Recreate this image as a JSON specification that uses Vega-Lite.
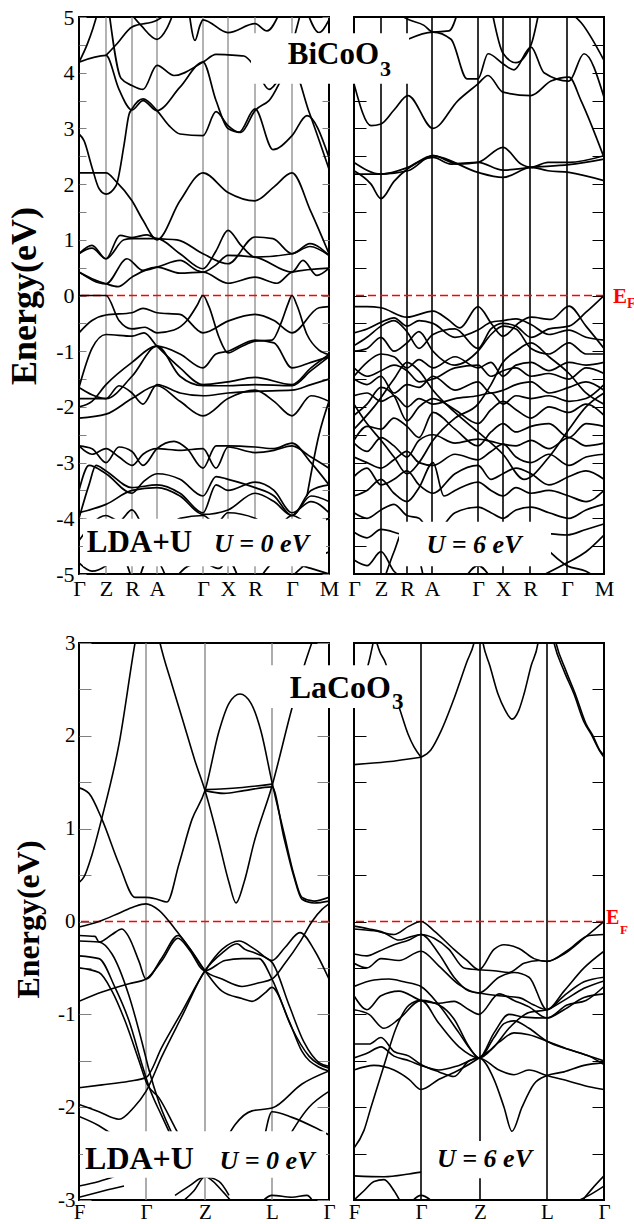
{
"$schema":"https://vega.github.io/schema/vega-lite/v6.json",
"padding":{"left":5,"top":5,"right":0,"bottom":0},
"config":{"view":{"stroke":"black","strokeWidth":2},"axis":{"domain":false,"grid":false,"labelFont":"Liberation Serif","labelColor":"black","titleFont":"Liberation Serif","titleColor":"black"},"text":{"font":"Liberation Serif"}},
"datasets":{
"kt":[{"k":27},{"k":53},{"k":78},{"k":124},{"k":149},{"k":176},{"k":213}],
"kb":[{"k":67},{"k":126},{"k":193}],
"tl":[
{"b":"t1","k":0,"E":2.2},{"b":"t1","k":27,"E":2.2},{"b":"t1","k":37,"E":2.05},{"b":"t1","k":53,"E":1.7},{"b":"t1","k":64,"E":1.35},{"b":"t1","k":78,"E":1.0},{"b":"t1","k":101,"E":1.7},{"b":"t1","k":124,"E":2.2},{"b":"t1","k":149,"E":1.85},{"b":"t1","k":176,"E":1.7},{"b":"t1","k":195,"E":1.95},{"b":"t1","k":213,"E":2.2},{"b":"t1","k":232,"E":1.5},{"b":"t1","k":250,"E":0.75},
{"b":"t2","k":0,"E":2.9},{"b":"t2","k":5,"E":2.78},{"b":"t2","k":13,"E":2.3},{"b":"t2","k":20,"E":1.92},{"b":"t2","k":27,"E":1.82},{"b":"t2","k":37,"E":1.97},{"b":"t2","k":45,"E":2.7},{"b":"t2","k":50,"E":3.25},{"b":"t2","k":53,"E":3.35},{"b":"t2","k":64,"E":3.53},{"b":"t2","k":78,"E":3.32},{"b":"t2","k":90,"E":3.05},{"b":"t2","k":101,"E":2.9},{"b":"t2","k":124,"E":2.87},{"b":"t2","k":137,"E":3.3},{"b":"t2","k":149,"E":3.05},{"b":"t2","k":160,"E":2.93},{"b":"t2","k":176,"E":3.35},{"b":"t2","k":194,"E":2.62},{"b":"t2","k":213,"E":2.87},{"b":"t2","k":228,"E":3.23},{"b":"t2","k":250,"E":2.48},
{"b":"t3","k":0,"E":4.19},{"b":"t3","k":27,"E":4.31},{"b":"t3","k":40,"E":3.7},{"b":"t3","k":53,"E":3.33},{"b":"t3","k":64,"E":3.5},{"b":"t3","k":78,"E":3.32},{"b":"t3","k":101,"E":3.74},{"b":"t3","k":124,"E":4.19},{"b":"t3","k":137,"E":3.5},{"b":"t3","k":149,"E":3.0},{"b":"t3","k":162,"E":2.93},{"b":"t3","k":176,"E":3.32},{"b":"t3","k":190,"E":3.5},{"b":"t3","k":213,"E":4.1},{"b":"t3","k":230,"E":3.3},{"b":"t3","k":250,"E":2.27},
{"b":"t4","k":0,"E":4.19},{"b":"t4","k":8,"E":4.5},{"b":"t4","k":14,"E":4.8},{"b":"t4","k":19,"E":5.1},
{"b":"t5","k":27,"E":4.31},{"b":"t5","k":38,"E":4.52},{"b":"t5","k":53,"E":4.82},{"b":"t5","k":78,"E":4.94},{"b":"t5","k":90,"E":5.1},
{"b":"t6","k":30,"E":5.1},{"b":"t6","k":42,"E":3.9},{"b":"t6","k":53,"E":3.77},{"b":"t6","k":64,"E":3.7},{"b":"t6","k":78,"E":4.13},{"b":"t6","k":95,"E":3.95},{"b":"t6","k":124,"E":4.19},{"b":"t6","k":137,"E":4.33},{"b":"t6","k":149,"E":4.32},{"b":"t6","k":165,"E":4.3},{"b":"t6","k":176,"E":4.1},{"b":"t6","k":190,"E":3.7},{"b":"t6","k":200,"E":3.9},{"b":"t6","k":213,"E":4.5},{"b":"t6","k":222,"E":5.1},
{"b":"t7","k":50,"E":5.1},{"b":"t7","k":62,"E":4.85},{"b":"t7","k":78,"E":4.6},{"b":"t7","k":88,"E":4.8},{"b":"t7","k":95,"E":5.1},
{"b":"t8","k":110,"E":5.1},{"b":"t8","k":116,"E":4.58},{"b":"t8","k":121,"E":4.85},{"b":"t8","k":124,"E":4.95},{"b":"t8","k":149,"E":4.72},{"b":"t8","k":176,"E":4.88},{"b":"t8","k":188,"E":4.75},{"b":"t8","k":200,"E":5.05},
{"b":"t9","k":228,"E":5.1},{"b":"t9","k":240,"E":4.72},{"b":"t9","k":250,"E":4.95},
{"b":"t10","k":0,"E":0.75},{"b":"t10","k":13,"E":0.9},{"b":"t10","k":27,"E":0.66},{"b":"t10","k":41,"E":1.08},{"b":"t10","k":53,"E":1.04},{"b":"t10","k":68,"E":1.09},{"b":"t10","k":78,"E":1.02},{"b":"t10","k":98,"E":1.0},{"b":"t10","k":124,"E":0.75},{"b":"t10","k":149,"E":0.57},{"b":"t10","k":176,"E":1.05},{"b":"t10","k":194,"E":1.02},{"b":"t10","k":213,"E":0.75},{"b":"t10","k":231,"E":0.93},{"b":"t10","k":250,"E":0.72},
{"b":"t11","k":0,"E":0.75},{"b":"t11","k":13,"E":0.85},{"b":"t11","k":27,"E":0.66},{"b":"t11","k":45,"E":1.0},{"b":"t11","k":53,"E":1.02},{"b":"t11","k":78,"E":1.02},{"b":"t11","k":101,"E":0.75},{"b":"t11","k":124,"E":0.48},{"b":"t11","k":137,"E":0.8},{"b":"t11","k":149,"E":1.17},{"b":"t11","k":162,"E":0.9},{"b":"t11","k":176,"E":0.69},{"b":"t11","k":213,"E":0.75},{"b":"t11","k":231,"E":0.88},{"b":"t11","k":250,"E":0.72},
{"b":"t12","k":0,"E":0.42},{"b":"t12","k":13,"E":0.3},{"b":"t12","k":27,"E":0.21},{"b":"t12","k":39,"E":0.16},{"b":"t12","k":53,"E":0.33},{"b":"t12","k":78,"E":0.51},{"b":"t12","k":101,"E":0.4},{"b":"t12","k":124,"E":0.42},{"b":"t12","k":149,"E":0.22},{"b":"t12","k":176,"E":0.33},{"b":"t12","k":198,"E":0.22},{"b":"t12","k":213,"E":0.42},{"b":"t12","k":250,"E":0.49},
{"b":"t13","k":0,"E":0.42},{"b":"t13","k":27,"E":0.21},{"b":"t13","k":48,"E":0.66},{"b":"t13","k":64,"E":0.45},{"b":"t13","k":78,"E":0.51},{"b":"t13","k":101,"E":0.63},{"b":"t13","k":118,"E":0.45},{"b":"t13","k":124,"E":0.42},{"b":"t13","k":137,"E":0.55},{"b":"t13","k":149,"E":0.72},{"b":"t13","k":176,"E":0.69},{"b":"t13","k":213,"E":0.42},{"b":"t13","k":224,"E":0.63},{"b":"t13","k":238,"E":0.36},{"b":"t13","k":250,"E":0.49},
{"b":"t14","k":0,"E":-0.67},{"b":"t14","k":13,"E":-0.45},{"b":"t14","k":27,"E":-0.35},{"b":"t14","k":53,"E":-0.31},{"b":"t14","k":64,"E":-0.23},{"b":"t14","k":78,"E":-0.31},{"b":"t14","k":101,"E":-0.34},{"b":"t14","k":124,"E":-0.67},{"b":"t14","k":149,"E":-0.46},{"b":"t14","k":176,"E":-0.34},{"b":"t14","k":195,"E":-0.45},{"b":"t14","k":213,"E":-0.67},{"b":"t14","k":240,"E":-0.22},{"b":"t14","k":250,"E":-0.2},
{"b":"t15","k":0,"E":0},{"b":"t15","k":27,"E":0},{"b":"t15","k":40,"E":-0.45},{"b":"t15","k":53,"E":-0.6},{"b":"t15","k":66,"E":-0.57},{"b":"t15","k":78,"E":-0.67},{"b":"t15","k":95,"E":-0.62},{"b":"t15","k":108,"E":-0.45},{"b":"t15","k":118,"E":-0.18},{"b":"t15","k":124,"E":0},{"b":"t15","k":130,"E":-0.2},{"b":"t15","k":140,"E":-0.75},{"b":"t15","k":149,"E":-1.03},{"b":"t15","k":162,"E":-0.92},{"b":"t15","k":176,"E":-0.82},{"b":"t15","k":193,"E":-0.8},{"b":"t15","k":203,"E":-0.45},{"b":"t15","k":209,"E":-0.15},{"b":"t15","k":213,"E":0},{"b":"t15","k":218,"E":-0.18},{"b":"t15","k":228,"E":-0.7},{"b":"t15","k":240,"E":-0.98},{"b":"t15","k":250,"E":-1.06},
{"b":"t16","k":0,"E":-1.65},{"b":"t16","k":13,"E":-0.95},{"b":"t16","k":27,"E":-0.7},{"b":"t16","k":53,"E":-0.73},{"b":"t16","k":65,"E":-0.67},{"b":"t16","k":78,"E":-0.91},{"b":"t16","k":101,"E":-1.3},{"b":"t16","k":124,"E":-1.6},{"b":"t16","k":149,"E":-1.55},{"b":"t16","k":176,"E":-1.47},{"b":"t16","k":213,"E":-1.6},{"b":"t16","k":232,"E":-1.3},{"b":"t16","k":250,"E":-1.06},
{"b":"t17","k":0,"E":-1.65},{"b":"t17","k":27,"E":-1.85},{"b":"t17","k":53,"E":-1.45},{"b":"t17","k":78,"E":-0.91},{"b":"t17","k":101,"E":-1.45},{"b":"t17","k":124,"E":-1.62},{"b":"t17","k":149,"E":-1.62},{"b":"t17","k":176,"E":-1.6},{"b":"t17","k":213,"E":-1.62},{"b":"t17","k":232,"E":-1.35},{"b":"t17","k":250,"E":-1.1},
{"b":"t18","k":0,"E":-1.85},{"b":"t18","k":27,"E":-1.85},{"b":"t18","k":40,"E":-1.62},{"b":"t18","k":53,"E":-1.75},{"b":"t18","k":64,"E":-1.95},{"b":"t18","k":78,"E":-1.6},{"b":"t18","k":101,"E":-1.75},{"b":"t18","k":124,"E":-1.8},{"b":"t18","k":149,"E":-1.75},{"b":"t18","k":176,"E":-1.72},{"b":"t18","k":213,"E":-1.7},{"b":"t18","k":232,"E":-1.6},{"b":"t18","k":250,"E":-1.5},
{"b":"t19","k":0,"E":-2.2},{"b":"t19","k":27,"E":-2.13},{"b":"t19","k":53,"E":-1.85},{"b":"t19","k":78,"E":-1.62},{"b":"t19","k":101,"E":-1.9},{"b":"t19","k":124,"E":-2.16},{"b":"t19","k":149,"E":-1.85},{"b":"t19","k":176,"E":-1.7},{"b":"t19","k":195,"E":-1.9},{"b":"t19","k":213,"E":-2.16},{"b":"t19","k":232,"E":-1.8},{"b":"t19","k":250,"E":-1.9},
{"b":"t20","k":0,"E":-2.0},{"b":"t20","k":13,"E":-1.9},{"b":"t20","k":27,"E":-1.6},{"b":"t20","k":53,"E":-1.2},{"b":"t20","k":78,"E":-0.91},{"b":"t20","k":101,"E":-1.05},{"b":"t20","k":124,"E":-1.3},{"b":"t20","k":137,"E":-1.05},{"b":"t20","k":149,"E":-1.0},{"b":"t20","k":176,"E":-0.8},{"b":"t20","k":195,"E":-0.85},{"b":"t20","k":213,"E":-1.3},{"b":"t20","k":232,"E":-1.2},{"b":"t20","k":250,"E":-1.1},
{"b":"t21","k":0,"E":-2.7},{"b":"t21","k":13,"E":-2.75},{"b":"t21","k":27,"E":-3.0},{"b":"t21","k":40,"E":-2.72},{"b":"t21","k":53,"E":-2.8},{"b":"t21","k":64,"E":-3.05},{"b":"t21","k":78,"E":-2.75},{"b":"t21","k":95,"E":-2.62},{"b":"t21","k":108,"E":-2.75},{"b":"t21","k":124,"E":-3.1},{"b":"t21","k":137,"E":-2.7},{"b":"t21","k":149,"E":-2.7},{"b":"t21","k":176,"E":-2.72},{"b":"t21","k":195,"E":-2.75},{"b":"t21","k":213,"E":-2.65},{"b":"t21","k":232,"E":-3.0},{"b":"t21","k":250,"E":-3.4},
{"b":"t22","k":0,"E":-2.7},{"b":"t22","k":13,"E":-2.85},{"b":"t22","k":27,"E":-2.75},{"b":"t22","k":40,"E":-2.9},{"b":"t22","k":53,"E":-3.05},{"b":"t22","k":64,"E":-2.85},{"b":"t22","k":78,"E":-2.75},{"b":"t22","k":101,"E":-2.78},{"b":"t22","k":124,"E":-2.75},{"b":"t22","k":137,"E":-3.1},{"b":"t22","k":149,"E":-2.72},{"b":"t22","k":176,"E":-2.82},{"b":"t22","k":195,"E":-2.78},{"b":"t22","k":213,"E":-2.7},{"b":"t22","k":232,"E":-2.9},{"b":"t22","k":250,"E":-3.1},
{"b":"t23","k":0,"E":-3.5},{"b":"t23","k":10,"E":-3.05},{"b":"t23","k":27,"E":-3.2},{"b":"t23","k":53,"E":-3.55},{"b":"t23","k":64,"E":-3.35},{"b":"t23","k":78,"E":-3.2},{"b":"t23","k":101,"E":-3.3},{"b":"t23","k":124,"E":-3.6},{"b":"t23","k":137,"E":-3.25},{"b":"t23","k":149,"E":-3.3},{"b":"t23","k":176,"E":-3.45},{"b":"t23","k":195,"E":-3.6},{"b":"t23","k":213,"E":-3.95},{"b":"t23","k":232,"E":-3.5},{"b":"t23","k":250,"E":-3.4},
{"b":"t24","k":0,"E":-3.9},{"b":"t24","k":27,"E":-3.75},{"b":"t24","k":53,"E":-3.5},{"b":"t24","k":78,"E":-3.45},{"b":"t24","k":101,"E":-3.6},{"b":"t24","k":124,"E":-3.93},{"b":"t24","k":149,"E":-3.85},{"b":"t24","k":176,"E":-3.55},{"b":"t24","k":195,"E":-3.7},{"b":"t24","k":213,"E":-3.95},{"b":"t24","k":232,"E":-3.6},{"b":"t24","k":250,"E":-3.7},
{"b":"t25","k":0,"E":-4.0},{"b":"t25","k":10,"E":-3.4},{"b":"t25","k":17,"E":-3.05},{"b":"t25","k":27,"E":-3.15},{"b":"t25","k":53,"E":-3.45},{"b":"t25","k":78,"E":-3.4},{"b":"t25","k":101,"E":-3.55},{"b":"t25","k":124,"E":-3.9},{"b":"t25","k":137,"E":-3.4},{"b":"t25","k":149,"E":-3.5},{"b":"t25","k":176,"E":-3.35},{"b":"t25","k":195,"E":-3.5},{"b":"t25","k":213,"E":-3.9},{"b":"t25","k":232,"E":-3.7},{"b":"t25","k":250,"E":-3.9},
{"b":"t26","k":0,"E":-4.4},{"b":"t26","k":27,"E":-3.95},{"b":"t26","k":40,"E":-4.05},{"b":"t26","k":53,"E":-3.85},{"b":"t26","k":66,"E":-4.2},{"b":"t26","k":78,"E":-4.3},{"b":"t26","k":101,"E":-4.0},{"b":"t26","k":124,"E":-3.95},{"b":"t26","k":137,"E":-4.1},{"b":"t26","k":149,"E":-3.9},{"b":"t26","k":176,"E":-4.0},{"b":"t26","k":195,"E":-4.2},{"b":"t26","k":213,"E":-3.95},{"b":"t26","k":232,"E":-4.1},{"b":"t26","k":250,"E":-4.0},
{"b":"t27","k":0,"E":-4.8},{"b":"t27","k":13,"E":-4.95},{"b":"t27","k":27,"E":-4.85},{"b":"t27","k":40,"E":-4.6},{"b":"t27","k":53,"E":-5.1},
{"b":"t28","k":60,"E":-5.1},{"b":"t28","k":70,"E":-4.7},{"b":"t28","k":78,"E":-4.75},{"b":"t28","k":88,"E":-5.1},
{"b":"t29","k":95,"E":-5.1},{"b":"t29","k":110,"E":-4.85},{"b":"t29","k":124,"E":-4.8},{"b":"t29","k":140,"E":-4.9},{"b":"t29","k":149,"E":-4.75},{"b":"t29","k":160,"E":-5.1},
{"b":"t30","k":180,"E":-5.1},{"b":"t30","k":200,"E":-4.75},{"b":"t30","k":213,"E":-4.8},{"b":"t30","k":232,"E":-4.9},{"b":"t30","k":250,"E":-5.0},
{"b":"t31","k":210,"E":-5.1},{"b":"t31","k":225,"E":-4.85},{"b":"t31","k":250,"E":-4.6},
{"b":"t32","k":228,"E":-3.6},{"b":"t32","k":240,"E":-2.5},{"b":"t32","k":250,"E":-1.9}
],
"tr":[
{"b":"r1","k":0,"E":2.39},{"b":"r1","k":27,"E":2.18},{"b":"r1","k":54,"E":2.3},{"b":"r1","k":79,"E":2.51},{"b":"r1","k":104,"E":2.36},{"b":"r1","k":124,"E":2.39},{"b":"r1","k":149,"E":2.66},{"b":"r1","k":167,"E":2.36},{"b":"r1","k":177,"E":2.3},{"b":"r1","k":194,"E":2.39},{"b":"r1","k":215,"E":2.39},{"b":"r1","k":250,"E":2.51},
{"b":"r2","k":0,"E":2.24},{"b":"r2","k":17,"E":2.0},{"b":"r2","k":27,"E":1.74},{"b":"r2","k":40,"E":2.05},{"b":"r2","k":54,"E":2.28},{"b":"r2","k":79,"E":2.48},{"b":"r2","k":97,"E":2.36},{"b":"r2","k":124,"E":2.39},{"b":"r2","k":149,"E":2.25},{"b":"r2","k":177,"E":2.3},{"b":"r2","k":215,"E":2.35},{"b":"r2","k":250,"E":2.45},
{"b":"r3","k":0,"E":2.18},{"b":"r3","k":27,"E":2.18},{"b":"r3","k":54,"E":2.24},{"b":"r3","k":79,"E":2.51},{"b":"r3","k":87,"E":2.48},{"b":"r3","k":124,"E":2.21},{"b":"r3","k":149,"E":2.12},{"b":"r3","k":177,"E":2.3},{"b":"r3","k":194,"E":2.24},{"b":"r3","k":215,"E":2.21},{"b":"r3","k":250,"E":2.06},
{"b":"r4","k":0,"E":3.8},{"b":"r4","k":17,"E":3.05},{"b":"r4","k":27,"E":3.08},{"b":"r4","k":40,"E":3.33},{"b":"r4","k":54,"E":3.59},{"b":"r4","k":79,"E":3.0},{"b":"r4","k":104,"E":3.5},{"b":"r4","k":124,"E":3.8},{"b":"r4","k":134,"E":3.95},{"b":"r4","k":149,"E":3.65},{"b":"r4","k":177,"E":3.59},{"b":"r4","k":197,"E":3.85},{"b":"r4","k":215,"E":3.92},{"b":"r4","k":227,"E":3.5},{"b":"r4","k":250,"E":2.48},
{"b":"r5","k":0,"E":4.5},{"b":"r5","k":27,"E":4.3},{"b":"r5","k":54,"E":4.6},{"b":"r5","k":79,"E":4.73},{"b":"r5","k":97,"E":4.6},{"b":"r5","k":113,"E":3.89},{"b":"r5","k":124,"E":3.89},{"b":"r5","k":134,"E":4.34},{"b":"r5","k":149,"E":4.16},{"b":"r5","k":160,"E":4.05},{"b":"r5","k":177,"E":4.46},{"b":"r5","k":190,"E":4.0},{"b":"r5","k":215,"E":3.85},{"b":"r5","k":230,"E":4.34},{"b":"r5","k":250,"E":3.56},
{"b":"r6","k":40,"E":5.1},{"b":"r6","k":55,"E":4.95},{"b":"r6","k":70,"E":4.85},{"b":"r6","k":79,"E":4.73},{"b":"r6","k":95,"E":4.75},{"b":"r6","k":104,"E":5.1},
{"b":"r7","k":215,"E":5.1},{"b":"r7","k":227,"E":4.9},{"b":"r7","k":250,"E":4.22},
{"b":"r8","k":138,"E":5.1},{"b":"r8","k":149,"E":4.35},{"b":"r8","k":162,"E":4.18},{"b":"r8","k":177,"E":4.5},{"b":"r8","k":185,"E":5.1},
{"b":"r9","k":0,"E":-0.2},{"b":"r9","k":13,"E":-0.2},{"b":"r9","k":27,"E":-0.22},{"b":"r9","k":53,"E":-0.39},{"b":"r9","k":79,"E":-0.28},{"b":"r9","k":94,"E":-0.43},{"b":"r9","k":106,"E":-0.58},{"b":"r9","k":124,"E":-0.2},{"b":"r9","k":138,"E":-0.52},{"b":"r9","k":149,"E":-0.73},{"b":"r9","k":165,"E":-0.49},{"b":"r9","k":177,"E":-0.39},{"b":"r9","k":197,"E":-0.43},{"b":"r9","k":215,"E":-0.19},{"b":"r9","k":232,"E":-0.55},{"b":"r9","k":250,"E":-0.95},
{"b":"r10","k":0,"E":-0.9},{"b":"r10","k":13,"E":-0.75},{"b":"r10","k":27,"E":-0.55},{"b":"r10","k":40,"E":-0.45},{"b":"r10","k":53,"E":-0.65},{"b":"r10","k":65,"E":-0.95},{"b":"r10","k":79,"E":-0.7},{"b":"r10","k":101,"E":-0.6},{"b":"r10","k":124,"E":-0.95},{"b":"r10","k":137,"E":-0.6},{"b":"r10","k":149,"E":-0.5},{"b":"r10","k":162,"E":-0.55},{"b":"r10","k":177,"E":-0.75},{"b":"r10","k":195,"E":-0.6},{"b":"r10","k":215,"E":-0.55},{"b":"r10","k":232,"E":-0.3},{"b":"r10","k":250,"E":0},
{"b":"r11","k":0,"E":-1.0},{"b":"r11","k":13,"E":-0.95},{"b":"r11","k":27,"E":-0.75},{"b":"r11","k":40,"E":-1.0},{"b":"r11","k":53,"E":-0.85},{"b":"r11","k":65,"E":-0.65},{"b":"r11","k":79,"E":-1.0},{"b":"r11","k":101,"E":-1.25},{"b":"r11","k":124,"E":-1.0},{"b":"r11","k":137,"E":-0.7},{"b":"r11","k":149,"E":-0.55},{"b":"r11","k":162,"E":-0.6},{"b":"r11","k":177,"E":-0.95},{"b":"r11","k":195,"E":-1.05},{"b":"r11","k":215,"E":-0.85},{"b":"r11","k":232,"E":-1.05},{"b":"r11","k":250,"E":-1.05},
{"b":"r12","k":0,"E":-1.45},{"b":"r12","k":13,"E":-1.2},{"b":"r12","k":27,"E":-1.05},{"b":"r12","k":40,"E":-1.1},{"b":"r12","k":53,"E":-1.3},{"b":"r12","k":65,"E":-1.15},{"b":"r12","k":79,"E":-1.3},{"b":"r12","k":101,"E":-1.1},{"b":"r12","k":124,"E":-1.3},{"b":"r12","k":137,"E":-1.2},{"b":"r12","k":149,"E":-1.45},{"b":"r12","k":162,"E":-1.25},{"b":"r12","k":177,"E":-1.2},{"b":"r12","k":195,"E":-1.35},{"b":"r12","k":215,"E":-1.2},{"b":"r12","k":232,"E":-1.25},{"b":"r12","k":250,"E":-1.2},
{"b":"r13","k":0,"E":-1.3},{"b":"r13","k":13,"E":-1.45},{"b":"r13","k":27,"E":-1.35},{"b":"r13","k":40,"E":-1.25},{"b":"r13","k":53,"E":-1.35},{"b":"r13","k":65,"E":-1.55},{"b":"r13","k":79,"E":-1.5},{"b":"r13","k":101,"E":-1.3},{"b":"r13","k":124,"E":-1.25},{"b":"r13","k":137,"E":-1.45},{"b":"r13","k":149,"E":-1.35},{"b":"r13","k":162,"E":-1.3},{"b":"r13","k":177,"E":-1.45},{"b":"r13","k":195,"E":-1.4},{"b":"r13","k":215,"E":-1.5},{"b":"r13","k":232,"E":-1.3},{"b":"r13","k":250,"E":-1.4},
{"b":"r14","k":0,"E":-1.5},{"b":"r14","k":13,"E":-1.6},{"b":"r14","k":27,"E":-1.45},{"b":"r14","k":40,"E":-1.75},{"b":"r14","k":53,"E":-1.6},{"b":"r14","k":65,"E":-1.65},{"b":"r14","k":79,"E":-1.45},{"b":"r14","k":101,"E":-1.7},{"b":"r14","k":124,"E":-1.55},{"b":"r14","k":137,"E":-1.75},{"b":"r14","k":149,"E":-1.7},{"b":"r14","k":162,"E":-1.6},{"b":"r14","k":177,"E":-1.55},{"b":"r14","k":195,"E":-1.75},{"b":"r14","k":215,"E":-1.65},{"b":"r14","k":232,"E":-1.55},{"b":"r14","k":250,"E":-1.7},
{"b":"r15","k":0,"E":-1.8},{"b":"r15","k":13,"E":-1.75},{"b":"r15","k":27,"E":-1.9},{"b":"r15","k":40,"E":-1.8},{"b":"r15","k":53,"E":-2.0},{"b":"r15","k":65,"E":-1.85},{"b":"r15","k":79,"E":-1.95},{"b":"r15","k":101,"E":-1.85},{"b":"r15","k":124,"E":-1.8},{"b":"r15","k":137,"E":-1.75},{"b":"r15","k":149,"E":-1.95},{"b":"r15","k":162,"E":-1.8},{"b":"r15","k":177,"E":-1.85},{"b":"r15","k":195,"E":-1.8},{"b":"r15","k":215,"E":-1.9},{"b":"r15","k":232,"E":-1.85},{"b":"r15","k":250,"E":-1.6},
{"b":"r16","k":0,"E":-2.15},{"b":"r16","k":13,"E":-1.95},{"b":"r16","k":27,"E":-1.65},{"b":"r16","k":40,"E":-1.8},{"b":"r16","k":53,"E":-2.25},{"b":"r16","k":65,"E":-2.0},{"b":"r16","k":79,"E":-1.85},{"b":"r16","k":101,"E":-2.05},{"b":"r16","k":124,"E":-2.3},{"b":"r16","k":137,"E":-2.05},{"b":"r16","k":149,"E":-1.9},{"b":"r16","k":162,"E":-2.05},{"b":"r16","k":177,"E":-2.2},{"b":"r16","k":195,"E":-2.0},{"b":"r16","k":215,"E":-2.1},{"b":"r16","k":232,"E":-1.95},{"b":"r16","k":250,"E":-2.15},
{"b":"r17","k":0,"E":-2.6},{"b":"r17","k":13,"E":-2.35},{"b":"r17","k":27,"E":-2.4},{"b":"r17","k":40,"E":-2.2},{"b":"r17","k":53,"E":-2.35},{"b":"r17","k":65,"E":-2.55},{"b":"r17","k":79,"E":-2.1},{"b":"r17","k":101,"E":-2.4},{"b":"r17","k":124,"E":-2.7},{"b":"r17","k":137,"E":-2.45},{"b":"r17","k":149,"E":-2.3},{"b":"r17","k":162,"E":-2.45},{"b":"r17","k":177,"E":-2.35},{"b":"r17","k":195,"E":-2.3},{"b":"r17","k":215,"E":-2.55},{"b":"r17","k":232,"E":-2.3},{"b":"r17","k":250,"E":-2.35},
{"b":"r18","k":0,"E":-2.65},{"b":"r18","k":13,"E":-2.8},{"b":"r18","k":27,"E":-2.55},{"b":"r18","k":40,"E":-2.7},{"b":"r18","k":53,"E":-2.9},{"b":"r18","k":65,"E":-2.6},{"b":"r18","k":79,"E":-2.5},{"b":"r18","k":101,"E":-2.65},{"b":"r18","k":124,"E":-2.58},{"b":"r18","k":137,"E":-2.62},{"b":"r18","k":149,"E":-2.67},{"b":"r18","k":162,"E":-2.7},{"b":"r18","k":177,"E":-2.6},{"b":"r18","k":195,"E":-2.75},{"b":"r18","k":215,"E":-2.55},{"b":"r18","k":232,"E":-2.7},{"b":"r18","k":250,"E":-2.65},
{"b":"r19","k":0,"E":-2.9},{"b":"r19","k":13,"E":-3.0},{"b":"r19","k":27,"E":-3.1},{"b":"r19","k":40,"E":-2.95},{"b":"r19","k":53,"E":-2.8},{"b":"r19","k":65,"E":-3.0},{"b":"r19","k":79,"E":-3.05},{"b":"r19","k":101,"E":-2.85},{"b":"r19","k":124,"E":-2.95},{"b":"r19","k":137,"E":-2.8},{"b":"r19","k":149,"E":-2.67},{"b":"r19","k":162,"E":-2.9},{"b":"r19","k":177,"E":-3.0},{"b":"r19","k":195,"E":-2.85},{"b":"r19","k":215,"E":-3.05},{"b":"r19","k":232,"E":-2.9},{"b":"r19","k":250,"E":-2.85},
{"b":"r20","k":0,"E":-3.25},{"b":"r20","k":13,"E":-3.1},{"b":"r20","k":27,"E":-3.4},{"b":"r20","k":40,"E":-3.3},{"b":"r20","k":53,"E":-3.15},{"b":"r20","k":65,"E":-3.4},{"b":"r20","k":79,"E":-3.55},{"b":"r20","k":101,"E":-3.2},{"b":"r20","k":124,"E":-3.05},{"b":"r20","k":137,"E":-3.3},{"b":"r20","k":149,"E":-3.2},{"b":"r20","k":162,"E":-3.1},{"b":"r20","k":177,"E":-3.2},{"b":"r20","k":195,"E":-3.4},{"b":"r20","k":215,"E":-3.25},{"b":"r20","k":232,"E":-3.15},{"b":"r20","k":250,"E":-3.3},
{"b":"r21","k":0,"E":-3.6},{"b":"r21","k":13,"E":-3.5},{"b":"r21","k":27,"E":-3.3},{"b":"r21","k":40,"E":-3.55},{"b":"r21","k":53,"E":-3.7},{"b":"r21","k":65,"E":-3.45},{"b":"r21","k":79,"E":-3.0},{"b":"r21","k":90,"E":-3.6},{"b":"r21","k":101,"E":-3.5},{"b":"r21","k":124,"E":-3.35},{"b":"r21","k":137,"E":-3.5},{"b":"r21","k":149,"E":-3.6},{"b":"r21","k":162,"E":-3.45},{"b":"r21","k":177,"E":-3.55},{"b":"r21","k":195,"E":-3.5},{"b":"r21","k":215,"E":-3.6},{"b":"r21","k":232,"E":-3.7},{"b":"r21","k":250,"E":-3.5},
{"b":"r22","k":0,"E":-3.9},{"b":"r22","k":13,"E":-4.0},{"b":"r22","k":27,"E":-3.85},{"b":"r22","k":40,"E":-3.75},{"b":"r22","k":53,"E":-3.95},{"b":"r22","k":65,"E":-4.0},{"b":"r22","k":79,"E":-4.3},{"b":"r22","k":101,"E":-3.9},{"b":"r22","k":124,"E":-3.8},{"b":"r22","k":137,"E":-3.9},{"b":"r22","k":149,"E":-4.0},{"b":"r22","k":162,"E":-3.85},{"b":"r22","k":177,"E":-3.8},{"b":"r22","k":195,"E":-3.9},{"b":"r22","k":215,"E":-4.0},{"b":"r22","k":232,"E":-3.85},{"b":"r22","k":250,"E":-3.75},
{"b":"r23","k":0,"E":-4.25},{"b":"r23","k":13,"E":-4.35},{"b":"r23","k":27,"E":-4.2},{"b":"r23","k":53,"E":-4.3},{"b":"r23","k":79,"E":-4.1},{"b":"r23","k":101,"E":-4.3},{"b":"r23","k":124,"E":-4.2},{"b":"r23","k":149,"E":-4.35},{"b":"r23","k":177,"E":-4.25},{"b":"r23","k":213,"E":-4.3},{"b":"r23","k":232,"E":-4.2},{"b":"r23","k":250,"E":-4.1},
{"b":"r24","k":0,"E":-4.75},{"b":"r24","k":13,"E":-4.85},{"b":"r24","k":27,"E":-4.6},{"b":"r24","k":40,"E":-4.95},{"b":"r24","k":53,"E":-5.1},
{"b":"r25","k":30,"E":-5.1},{"b":"r25","k":40,"E":-4.6},{"b":"r25","k":50,"E":-4.2},{"b":"r25","k":60,"E":-4.4},{"b":"r25","k":70,"E":-5.1},
{"b":"r26","k":180,"E":-5.1},{"b":"r26","k":213,"E":-4.8},{"b":"r26","k":232,"E":-4.6},{"b":"r26","k":250,"E":-4.3},
{"b":"r27","k":190,"E":-4.5},{"b":"r27","k":213,"E":-4.85},{"b":"r27","k":232,"E":-4.95},{"b":"r27","k":245,"E":-5.1},
{"b":"r28","k":110,"E":-5.1},{"b":"r28","k":124,"E":-4.85},{"b":"r28","k":138,"E":-5.1},
{"b":"r29","k":0,"E":-0.67},{"b":"r29","k":13,"E":-0.6},{"b":"r29","k":27,"E":-0.48},{"b":"r29","k":40,"E":-0.4},{"b":"r29","k":53,"E":-0.55},{"b":"r29","k":65,"E":-0.45},{"b":"r29","k":79,"E":-0.5},{"b":"r29","k":101,"E":-0.75},{"b":"r29","k":124,"E":-0.62},{"b":"r29","k":137,"E":-0.48},{"b":"r29","k":149,"E":-0.45},{"b":"r29","k":162,"E":-0.42},{"b":"r29","k":177,"E":-0.52},{"b":"r29","k":195,"E":-0.7},{"b":"r29","k":215,"E":-0.62},{"b":"r29","k":232,"E":-0.75},{"b":"r29","k":250,"E":-0.8},
{"b":"r30","k":0,"E":-1.95},{"b":"r30","k":13,"E":-2.3},{"b":"r30","k":27,"E":-2.6},{"b":"r30","k":40,"E":-2.9},{"b":"r30","k":53,"E":-3.2},{"b":"r30","k":65,"E":-3.0},{"b":"r30","k":79,"E":-2.6},{"b":"r30","k":101,"E":-2.2},{"b":"r30","k":124,"E":-1.95},{"b":"r30","k":137,"E":-1.6},{"b":"r30","k":149,"E":-1.2},{"b":"r30","k":162,"E":-1.0},{"b":"r30","k":177,"E":-0.85},{"b":"r30","k":195,"E":-1.1},{"b":"r30","k":215,"E":-1.4},{"b":"r30","k":232,"E":-1.75},{"b":"r30","k":250,"E":-1.95},
{"b":"r31","k":0,"E":-2.4},{"b":"r31","k":20,"E":-2.0},{"b":"r31","k":40,"E":-1.5},{"b":"r31","k":53,"E":-1.2},{"b":"r31","k":65,"E":-1.35},{"b":"r31","k":79,"E":-1.7},{"b":"r31","k":101,"E":-2.1},{"b":"r31","k":124,"E":-2.45},{"b":"r31","k":149,"E":-2.85},{"b":"r31","k":170,"E":-3.3},{"b":"r31","k":195,"E":-2.9},{"b":"r31","k":215,"E":-2.4},{"b":"r31","k":232,"E":-2.0},{"b":"r31","k":250,"E":-1.75}
],
"bl":[
{"b":"l1","k":0,"E":0.42},{"b":"l1","k":5,"E":0.48},{"b":"l1","k":13,"E":0.72},{"b":"l1","k":23,"E":1.12},{"b":"l1","k":40,"E":1.91},{"b":"l1","k":56,"E":3.0},{"b":"l1","k":61,"E":3.3},
{"b":"l2","k":75,"E":3.3},{"b":"l2","k":81,"E":3.0},{"b":"l2","k":93,"E":2.55},{"b":"l2","k":104,"E":2.16},{"b":"l2","k":116,"E":1.73},{"b":"l2","k":126,"E":1.41},{"b":"l2","k":140,"E":0.85},{"b":"l2","k":150,"E":0.42},{"b":"l2","k":157,"E":0.2},{"b":"l2","k":165,"E":0.42},{"b":"l2","k":175,"E":0.85},{"b":"l2","k":193,"E":1.46},{"b":"l2","k":213,"E":2.3},{"b":"l2","k":225,"E":2.75},{"b":"l2","k":236,"E":3.1},
{"b":"l3","k":0,"E":1.44},{"b":"l3","k":10,"E":1.38},{"b":"l3","k":23,"E":1.1},{"b":"l3","k":40,"E":0.62},{"b":"l3","k":56,"E":0.26},{"b":"l3","k":67,"E":0.26},{"b":"l3","k":78,"E":0.24},{"b":"l3","k":88,"E":0.21},{"b":"l3","k":100,"E":0.62},{"b":"l3","k":113,"E":1.1},{"b":"l3","k":126,"E":1.41},{"b":"l3","k":140,"E":2.05},{"b":"l3","k":150,"E":2.35},{"b":"l3","k":161,"E":2.45},{"b":"l3","k":172,"E":2.35},{"b":"l3","k":182,"E":2.05},{"b":"l3","k":193,"E":1.5},{"b":"l3","k":205,"E":0.95},{"b":"l3","k":215,"E":0.5},{"b":"l3","k":223,"E":0.26},{"b":"l3","k":235,"E":0.22},{"b":"l3","k":250,"E":0.26},
{"b":"l4","k":126,"E":1.41},{"b":"l4","k":145,"E":1.38},{"b":"l4","k":165,"E":1.41},{"b":"l4","k":193,"E":1.45},{"b":"l4","k":205,"E":0.9},{"b":"l4","k":215,"E":0.48},{"b":"l4","k":223,"E":0.24},{"b":"l4","k":235,"E":0.2},{"b":"l4","k":250,"E":0.22},
{"b":"l5","k":126,"E":1.42},{"b":"l5","k":160,"E":1.44},{"b":"l5","k":193,"E":1.48},
{"b":"l6","k":0,"E":-0.06},{"b":"l6","k":20,"E":0.0},{"b":"l6","k":40,"E":0.09},{"b":"l6","k":55,"E":0.16},{"b":"l6","k":67,"E":0.19},{"b":"l6","k":80,"E":0.12},{"b":"l6","k":96,"E":-0.08},{"b":"l6","k":110,"E":-0.28},{"b":"l6","k":126,"E":-0.53},{"b":"l6","k":143,"E":-0.62},{"b":"l6","k":163,"E":-0.7},{"b":"l6","k":180,"E":-0.66},{"b":"l6","k":193,"E":-0.62},{"b":"l6","k":206,"E":-0.45},{"b":"l6","k":221,"E":-0.22},{"b":"l6","k":233,"E":0.0},{"b":"l6","k":243,"E":0.13},{"b":"l6","k":250,"E":0.19},
{"b":"l7","k":0,"E":-0.15},{"b":"l7","k":16,"E":-0.16},{"b":"l7","k":20,"E":-0.22},{"b":"l7","k":33,"E":-0.14},{"b":"l7","k":43,"E":-0.08},{"b":"l7","k":50,"E":-0.17},{"b":"l7","k":60,"E":-0.43},{"b":"l7","k":67,"E":-0.62},{"b":"l7","k":83,"E":-0.39},{"b":"l7","k":99,"E":-0.15},{"b":"l7","k":110,"E":-0.28},{"b":"l7","k":126,"E":-0.53},{"b":"l7","k":143,"E":-0.75},{"b":"l7","k":163,"E":-0.83},{"b":"l7","k":173,"E":-0.86},{"b":"l7","k":186,"E":-0.77},{"b":"l7","k":193,"E":-0.71},{"b":"l7","k":210,"E":-1.07},{"b":"l7","k":223,"E":-1.4},{"b":"l7","k":240,"E":-1.57},{"b":"l7","k":250,"E":-1.61},
{"b":"l8","k":0,"E":-0.21},{"b":"l8","k":20,"E":-0.22},{"b":"l8","k":33,"E":-0.35},{"b":"l8","k":50,"E":-0.8},{"b":"l8","k":63,"E":-1.3},{"b":"l8","k":70,"E":-1.6},{"b":"l8","k":80,"E":-1.95},{"b":"l8","k":96,"E":-2.35},
{"b":"l9","k":0,"E":-0.37},{"b":"l9","k":20,"E":-0.4},{"b":"l9","k":36,"E":-0.71},{"b":"l9","k":50,"E":-1.07},{"b":"l9","k":63,"E":-1.54},{"b":"l9","k":70,"E":-1.78},{"b":"l9","k":83,"E":-2.1},{"b":"l9","k":96,"E":-2.4},
{"b":"l10","k":0,"E":-0.5},{"b":"l10","k":20,"E":-0.55},{"b":"l10","k":33,"E":-0.75},{"b":"l10","k":46,"E":-1.07},{"b":"l10","k":60,"E":-1.5},{"b":"l10","k":68,"E":-1.75},{"b":"l10","k":80,"E":-1.9},{"b":"l10","k":96,"E":-2.22},{"b":"l10","k":105,"E":-2.4},
{"b":"l11","k":0,"E":-1.79},{"b":"l11","k":23,"E":-1.76},{"b":"l11","k":50,"E":-1.72},{"b":"l11","k":67,"E":-1.68},{"b":"l11","k":83,"E":-1.35},{"b":"l11","k":103,"E":-0.97},{"b":"l11","k":126,"E":-0.53},{"b":"l11","k":143,"E":-0.3},{"b":"l11","k":160,"E":-0.21},{"b":"l11","k":176,"E":-0.3},{"b":"l11","k":193,"E":-0.42},{"b":"l11","k":206,"E":-0.28},{"b":"l11","k":221,"E":-0.12},{"b":"l11","k":236,"E":-0.32},{"b":"l11","k":250,"E":-0.62},
{"b":"l12","k":0,"E":-1.97},{"b":"l12","k":20,"E":-2.05},{"b":"l12","k":40,"E":-2.13},{"b":"l12","k":55,"E":-2.0},{"b":"l12","k":67,"E":-1.83},{"b":"l12","k":83,"E":-1.45},{"b":"l12","k":103,"E":-1.02},{"b":"l12","k":126,"E":-0.53},{"b":"l12","k":143,"E":-0.34},{"b":"l12","k":158,"E":-0.24},{"b":"l12","k":166,"E":-0.3},{"b":"l12","k":176,"E":-0.34},{"b":"l12","k":193,"E":-0.44},{"b":"l12","k":210,"E":-0.9},{"b":"l12","k":225,"E":-1.3},{"b":"l12","k":240,"E":-1.52},{"b":"l12","k":250,"E":-1.56},
{"b":"l13","k":0,"E":-0.86},{"b":"l13","k":23,"E":-0.76},{"b":"l13","k":50,"E":-0.67},{"b":"l13","k":67,"E":-0.62},{"b":"l13","k":83,"E":-0.42},{"b":"l13","k":99,"E":-0.18},{"b":"l13","k":110,"E":-0.3},{"b":"l13","k":126,"E":-0.53},{"b":"l13","k":146,"E":-0.42},{"b":"l13","k":163,"E":-0.4},{"b":"l13","k":180,"E":-0.4},{"b":"l13","k":193,"E":-0.62},{"b":"l13","k":213,"E":-1.15},{"b":"l13","k":230,"E":-1.45},{"b":"l13","k":250,"E":-1.58},
{"b":"l14","k":140,"E":-2.5},{"b":"l14","k":156,"E":-2.19},{"b":"l14","k":173,"E":-2.04},{"b":"l14","k":193,"E":-2.01},{"b":"l14","k":223,"E":-1.75},{"b":"l14","k":250,"E":-1.61},
{"b":"l15","k":186,"E":-2.3},{"b":"l15","k":193,"E":-2.05},{"b":"l15","k":213,"E":-2.11},{"b":"l15","k":236,"E":-2.22},{"b":"l15","k":250,"E":-2.3},
{"b":"l16","k":200,"E":-2.5},{"b":"l16","k":230,"E":-2.0},{"b":"l16","k":250,"E":-1.83},
{"b":"l17","k":0,"E":-2.1},{"b":"l17","k":20,"E":-2.2},{"b":"l17","k":40,"E":-2.35},{"b":"l17","k":55,"E":-2.5},
{"b":"l18","k":0,"E":-2.85},{"b":"l18","k":20,"E":-2.8},{"b":"l18","k":35,"E":-2.75},
{"b":"l19","k":0,"E":-2.97},{"b":"l19","k":25,"E":-2.9},{"b":"l19","k":45,"E":-2.85},
{"b":"l20","k":96,"E":-2.95},{"b":"l20","k":110,"E":-2.85},{"b":"l20","k":126,"E":-2.75},{"b":"l20","k":143,"E":-2.9},{"b":"l20","k":155,"E":-3.05},
{"b":"l21","k":100,"E":-3.05},{"b":"l21","k":115,"E":-2.9},{"b":"l21","k":126,"E":-2.75},{"b":"l21","k":140,"E":-2.8},{"b":"l21","k":150,"E":-2.95},
{"b":"l22","k":180,"E":-3.05},{"b":"l22","k":193,"E":-2.95},{"b":"l22","k":213,"E":-2.97},{"b":"l22","k":228,"E":-2.95},{"b":"l22","k":236,"E":-3.05}
],
"br":[
{"b":"m1","k":0,"E":1.69},{"b":"m1","k":33,"E":1.72},{"b":"m1","k":67,"E":1.77},
{"b":"m2","k":67,"E":1.77},{"b":"m2","k":77,"E":1.85},{"b":"m2","k":87,"E":2.05},{"b":"m2","k":100,"E":2.4},{"b":"m2","k":113,"E":2.8},{"b":"m2","k":120,"E":3.0},{"b":"m2","k":123,"E":3.15},
{"b":"m3","k":20,"E":3.1},{"b":"m3","k":26,"E":2.9},{"b":"m3","k":32,"E":2.77},{"b":"m3","k":37,"E":2.52},{"b":"m3","k":44,"E":2.34},{"b":"m3","k":54,"E":2.02},{"b":"m3","k":60,"E":1.88},{"b":"m3","k":67,"E":1.77},
{"b":"m4","k":8,"E":2.55},{"b":"m4","k":15,"E":2.8},{"b":"m4","k":21,"E":3.1},
{"b":"m5","k":126,"E":3.2},{"b":"m5","k":129,"E":3.0},{"b":"m5","k":136,"E":2.75},{"b":"m5","k":144,"E":2.45},{"b":"m5","k":151,"E":2.28},{"b":"m5","k":158,"E":2.18},{"b":"m5","k":165,"E":2.28},{"b":"m5","k":170,"E":2.45},{"b":"m5","k":177,"E":2.75},{"b":"m5","k":184,"E":3.0},{"b":"m5","k":186,"E":3.15},
{"b":"m6","k":197,"E":3.15},{"b":"m6","k":200,"E":3.0},{"b":"m6","k":210,"E":2.7},{"b":"m6","k":220,"E":2.45},{"b":"m6","k":230,"E":2.15},{"b":"m6","k":237,"E":2.02},{"b":"m6","k":245,"E":1.85},{"b":"m6","k":250,"E":1.77},
{"b":"m7","k":199,"E":3.15},{"b":"m7","k":202,"E":3.0},{"b":"m7","k":212,"E":2.7},{"b":"m7","k":222,"E":2.43},{"b":"m7","k":232,"E":2.13},{"b":"m7","k":239,"E":2.0},{"b":"m7","k":246,"E":1.84},{"b":"m7","k":250,"E":1.79},
{"b":"m8","k":0,"E":-0.08},{"b":"m8","k":20,"E":-0.1},{"b":"m8","k":40,"E":-0.14},{"b":"m8","k":55,"E":-0.05},{"b":"m8","k":67,"E":0.0},{"b":"m8","k":80,"E":-0.1},{"b":"m8","k":100,"E":-0.3},{"b":"m8","k":113,"E":-0.42},{"b":"m8","k":125,"E":-0.52},{"b":"m8","k":140,"E":-0.3},{"b":"m8","k":150,"E":-0.25},{"b":"m8","k":165,"E":-0.29},{"b":"m8","k":180,"E":-0.4},{"b":"m8","k":193,"E":-0.43},{"b":"m8","k":210,"E":-0.35},{"b":"m8","k":230,"E":-0.18},{"b":"m8","k":250,"E":0.0},
{"b":"m9","k":0,"E":-0.05},{"b":"m9","k":15,"E":-0.08},{"b":"m9","k":30,"E":-0.12},{"b":"m9","k":45,"E":-0.2},{"b":"m9","k":55,"E":-0.17},{"b":"m9","k":67,"E":-0.14},{"b":"m9","k":80,"E":-0.18},{"b":"m9","k":95,"E":-0.3},{"b":"m9","k":110,"E":-0.5},{"b":"m9","k":125,"E":-0.52},{"b":"m9","k":140,"E":-0.53},{"b":"m9","k":155,"E":-0.55},{"b":"m9","k":170,"E":-0.45},{"b":"m9","k":185,"E":-0.42},{"b":"m9","k":193,"E":-0.43},{"b":"m9","k":215,"E":-0.3},{"b":"m9","k":235,"E":-0.15},{"b":"m9","k":250,"E":-0.14},
{"b":"m10","k":0,"E":-0.35},{"b":"m10","k":13,"E":-0.37},{"b":"m10","k":25,"E":-0.32},{"b":"m10","k":40,"E":-0.25},{"b":"m10","k":55,"E":-0.2},{"b":"m10","k":67,"E":-0.14},{"b":"m10","k":85,"E":-0.35},{"b":"m10","k":100,"E":-0.6},{"b":"m10","k":115,"E":-0.75},{"b":"m10","k":125,"E":-0.77},{"b":"m10","k":145,"E":-0.8},{"b":"m10","k":165,"E":-0.82},{"b":"m10","k":180,"E":-0.9},{"b":"m10","k":193,"E":-0.95},{"b":"m10","k":210,"E":-0.8},{"b":"m10","k":230,"E":-0.65},{"b":"m10","k":250,"E":-0.6},
{"b":"m11","k":0,"E":-0.45},{"b":"m11","k":13,"E":-0.5},{"b":"m11","k":27,"E":-0.4},{"b":"m11","k":45,"E":-0.42},{"b":"m11","k":67,"E":-0.32},{"b":"m11","k":85,"E":-0.48},{"b":"m11","k":105,"E":-0.68},{"b":"m11","k":125,"E":-0.77},{"b":"m11","k":145,"E":-0.6},{"b":"m11","k":160,"E":-0.55},{"b":"m11","k":175,"E":-0.6},{"b":"m11","k":193,"E":-0.95},{"b":"m11","k":210,"E":-0.75},{"b":"m11","k":230,"E":-0.5},{"b":"m11","k":250,"E":-0.32},
{"b":"m12","k":0,"E":-0.7},{"b":"m12","k":20,"E":-0.63},{"b":"m12","k":35,"E":-0.62},{"b":"m12","k":50,"E":-0.65},{"b":"m12","k":67,"E":-0.7},{"b":"m12","k":85,"E":-0.9},{"b":"m12","k":105,"E":-1.2},{"b":"m12","k":118,"E":-1.4},{"b":"m12","k":125,"E":-1.47},{"b":"m12","k":140,"E":-1.25},{"b":"m12","k":150,"E":-1.1},{"b":"m12","k":160,"E":-1.07},{"b":"m12","k":175,"E":-1.15},{"b":"m12","k":193,"E":-1.29},{"b":"m12","k":215,"E":-1.38},{"b":"m12","k":235,"E":-1.45},{"b":"m12","k":250,"E":-1.54},
{"b":"m13","k":0,"E":-0.8},{"b":"m13","k":13,"E":-0.95},{"b":"m13","k":27,"E":-0.8},{"b":"m13","k":45,"E":-0.75},{"b":"m13","k":67,"E":-0.85},{"b":"m13","k":85,"E":-0.88},{"b":"m13","k":100,"E":-0.86},{"b":"m13","k":115,"E":-0.95},{"b":"m13","k":125,"E":-1.0},{"b":"m13","k":145,"E":-0.78},{"b":"m13","k":160,"E":-0.85},{"b":"m13","k":175,"E":-0.92},{"b":"m13","k":193,"E":-1.04},{"b":"m13","k":210,"E":-0.95},{"b":"m13","k":230,"E":-0.82},{"b":"m13","k":250,"E":-0.78},
{"b":"m14","k":0,"E":-0.95},{"b":"m14","k":15,"E":-1.0},{"b":"m14","k":30,"E":-1.15},{"b":"m14","k":45,"E":-1.05},{"b":"m14","k":67,"E":-0.85},{"b":"m14","k":85,"E":-1.1},{"b":"m14","k":105,"E":-1.35},{"b":"m14","k":125,"E":-1.47},{"b":"m14","k":140,"E":-1.2},{"b":"m14","k":155,"E":-1.0},{"b":"m14","k":170,"E":-1.03},{"b":"m14","k":193,"E":-1.04},{"b":"m14","k":213,"E":-0.9},{"b":"m14","k":232,"E":-0.85},{"b":"m14","k":250,"E":-0.7},
{"b":"m15","k":0,"E":-1.32},{"b":"m15","k":15,"E":-1.32},{"b":"m15","k":27,"E":-1.25},{"b":"m15","k":40,"E":-1.4},{"b":"m15","k":55,"E":-1.45},{"b":"m15","k":67,"E":-1.54},{"b":"m15","k":85,"E":-1.62},{"b":"m15","k":100,"E":-1.67},{"b":"m15","k":115,"E":-1.5},{"b":"m15","k":125,"E":-1.47},{"b":"m15","k":145,"E":-1.6},{"b":"m15","k":160,"E":-1.65},{"b":"m15","k":175,"E":-1.6},{"b":"m15","k":193,"E":-1.66},{"b":"m15","k":215,"E":-1.72},{"b":"m15","k":235,"E":-1.78},{"b":"m15","k":250,"E":-1.81},
{"b":"m16","k":0,"E":-1.47},{"b":"m16","k":13,"E":-1.42},{"b":"m16","k":27,"E":-1.35},{"b":"m16","k":40,"E":-1.45},{"b":"m16","k":55,"E":-1.5},{"b":"m16","k":67,"E":-1.55},{"b":"m16","k":85,"E":-1.6},{"b":"m16","k":105,"E":-1.55},{"b":"m16","k":125,"E":-1.47},{"b":"m16","k":140,"E":-1.7},{"b":"m16","k":150,"E":-2.0},{"b":"m16","k":158,"E":-2.26},{"b":"m16","k":168,"E":-2.0},{"b":"m16","k":180,"E":-1.75},{"b":"m16","k":193,"E":-1.66},{"b":"m16","k":210,"E":-1.62},{"b":"m16","k":230,"E":-1.55},{"b":"m16","k":250,"E":-1.52},
{"b":"m17","k":0,"E":-2.44},{"b":"m17","k":10,"E":-2.25},{"b":"m17","k":17,"E":-2.0},{"b":"m17","k":30,"E":-1.55},{"b":"m17","k":42,"E":-1.15},{"b":"m17","k":55,"E":-0.9},{"b":"m17","k":67,"E":-0.85},{"b":"m17","k":85,"E":-0.9},{"b":"m17","k":100,"E":-1.05},{"b":"m17","k":115,"E":-1.35},{"b":"m17","k":125,"E":-1.47},{"b":"m17","k":145,"E":-1.3},{"b":"m17","k":160,"E":-1.2},{"b":"m17","k":175,"E":-1.22},{"b":"m17","k":193,"E":-1.29},{"b":"m17","k":215,"E":-1.38},{"b":"m17","k":235,"E":-1.45},{"b":"m17","k":250,"E":-1.5},
{"b":"m18","k":0,"E":-1.6},{"b":"m18","k":20,"E":-1.55},{"b":"m18","k":40,"E":-1.6},{"b":"m18","k":55,"E":-1.7},{"b":"m18","k":67,"E":-1.81},{"b":"m18","k":85,"E":-1.7},{"b":"m18","k":105,"E":-1.6},{"b":"m18","k":125,"E":-1.47},{"b":"m18","k":140,"E":-1.35},{"b":"m18","k":155,"E":-1.15},{"b":"m18","k":175,"E":-0.98},{"b":"m18","k":193,"E":-0.95},{"b":"m18","k":210,"E":-0.85},{"b":"m18","k":230,"E":-0.72},{"b":"m18","k":250,"E":-0.64},
{"b":"m19","k":0,"E":-2.74},{"b":"m19","k":30,"E":-2.75},{"b":"m19","k":55,"E":-2.72},{"b":"m19","k":67,"E":-2.7},
{"b":"m20","k":55,"E":-3.05},{"b":"m20","k":67,"E":-2.95},{"b":"m20","k":82,"E":-3.05},
{"b":"m21","k":225,"E":-3.05},{"b":"m21","k":238,"E":-2.88},{"b":"m21","k":250,"E":-2.74},
{"b":"m22","k":215,"E":-3.05},{"b":"m22","k":235,"E":-2.95},{"b":"m22","k":250,"E":-2.85},
{"b":"m23","k":0,"E":-3.0},{"b":"m23","k":10,"E":-2.9},{"b":"m23","k":20,"E":-2.8},{"b":"m23","k":30,"E":-2.78},{"b":"m23","k":40,"E":-2.9},{"b":"m23","k":48,"E":-3.05}
]
},
"concat":[
{"width":250,"height":557,
"layer":[
{"data":{"name":"kt"},"mark":{"type":"rule","color":"#808080","strokeWidth":1.2},
"encoding":{"x":{"field":"k","type":"quantitative","scale":{"domain":[0,250],"nice":false,"zero":false},"axis":{"values":[0,27,53,78,124,149,176,213,250],"labelExpr":"['Γ','Z','R','A','Γ','X','R','Γ','M'][indexof([0,27,53,78,124,149,176,213,250], datum.value)]","ticks":false,"labelFlush":false,"labelOverlap":false,"labelFontSize":22,"labelBaseline":"alphabetic","labelPadding":21,"title":null}}}},
{"data":{"values":[{}]},"mark":{"type":"rule","color":"#ff0000","strokeDash":[8,4],"strokeWidth":1.5},
"encoding":{"y":{"datum":0,"type":"quantitative","scale":{"domain":[-5,5],"nice":false,"zero":false},"axis":{"orient":"right","values":[-5,-4.5,-4,-3.5,-3,-2.5,-2,-1.5,-1,-0.5,0,0.5,1,1.5,2,2.5,3,3.5,4,4.5,5],"labels":false,"tickSize":-7,"tickColor":"#808080","title":null}}}},
{"data":{"name":"tl"},"mark":{"type":"line","interpolate":"monotone","color":"black","strokeWidth":1.7,"clip":true},
"encoding":{"x":{"field":"k","type":"quantitative","scale":{"domain":[0,250],"nice":false,"zero":false},"axis":null},
"y":{"field":"E","type":"quantitative","scale":{"domain":[-5,5],"nice":false,"zero":false},"axis":{"orient":"left","values":[-5,-4.5,-4,-3.5,-3,-2.5,-2,-1.5,-1,-0.5,0,0.5,1,1.5,2,2.5,3,3.5,4,4.5,5],"labelExpr":"datum.value % 1 === 0 ? '' + datum.value : ''","labelFontSize":22,"labelOverlap":false,"tickSize":-7,"tickColor":"#808080","labelPadding":12,"title":"Energy(eV)","titleFontSize":36,"titleFontWeight":"bold","titleX":-55,"titleY":278.5,"titleBaseline":"middle","titleAlign":"center","titleAngle":-90}},
"detail":{"field":"b"}}},
{"data":{"values":[{}]},"mark":{"type":"rect","color":"white"},
"encoding":{"x":{"datum":4,"type":"quantitative","scale":{"domain":[0,250],"nice":false,"zero":false},"axis":null},"x2":{"datum":247},"y":{"datum":-4.01,"type":"quantitative","scale":{"domain":[-5,5],"nice":false,"zero":false},"axis":null},"y2":{"datum":-4.86}}},
{"data":{"values":[{"t":"LDA+U"}]},"mark":{"type":"text","fontSize":31,"fontWeight":"bold","align":"center","baseline":"alphabetic","color":"black"},
"encoding":{"text":{"field":"t"},"x":{"datum":60.5,"type":"quantitative","scale":{"domain":[0,250],"nice":false,"zero":false},"axis":null},"y":{"datum":-4.605,"type":"quantitative","scale":{"domain":[-5,5],"nice":false,"zero":false},"axis":null}}},
{"data":{"values":[{"t":"U = 0 eV"}]},"mark":{"type":"text","fontSize":26,"fontWeight":"bold","fontStyle":"italic","align":"center","baseline":"alphabetic","color":"black"},
"encoding":{"text":{"field":"t"},"x":{"datum":182.5,"type":"quantitative","scale":{"domain":[0,250],"nice":false,"zero":false},"axis":null},"y":{"datum":-4.605,"type":"quantitative","scale":{"domain":[-5,5],"nice":false,"zero":false},"axis":null}}}
],
"resolve":{"axis":{"x":"independent","y":"independent"}}},
{"width":250,"height":557,
"layer":[
{"data":{"name":"kt"},"mark":{"type":"rule","color":"black","strokeWidth":1.6},
"encoding":{"x":{"field":"k","type":"quantitative","scale":{"domain":[0,250],"nice":false,"zero":false},"axis":{"values":[0,27,53,78,124,149,176,213,250],"labelExpr":"['Γ','Z','R','A','Γ','X','R','Γ','M'][indexof([0,27,53,78,124,149,176,213,250], datum.value)]","ticks":false,"labelFlush":false,"labelOverlap":false,"labelFontSize":22,"labelBaseline":"alphabetic","labelPadding":21,"title":null}}}},
{"data":{"values":[{}]},"mark":{"type":"rule","color":"#ff0000","strokeDash":[8,4],"strokeWidth":1.5},
"encoding":{"y":{"datum":0,"type":"quantitative","scale":{"domain":[-5,5],"nice":false,"zero":false},"axis":{"orient":"right","values":[-5,-4.5,-4,-3.5,-3,-2.5,-2,-1.5,-1,-0.5,0,0.5,1,1.5,2,2.5,3,3.5,4,4.5,5],"labels":false,"tickSize":-12,"tickColor":"black","title":null}}}},
{"data":{"name":"tr"},"mark":{"type":"line","interpolate":"monotone","color":"black","strokeWidth":1.7,"clip":true},
"encoding":{"x":{"field":"k","type":"quantitative","scale":{"domain":[0,250],"nice":false,"zero":false},"axis":null},
"y":{"field":"E","type":"quantitative","scale":{"domain":[-5,5],"nice":false,"zero":false},"axis":{"orient":"left","values":[-5,-4.5,-4,-3.5,-3,-2.5,-2,-1.5,-1,-0.5,0,0.5,1,1.5,2,2.5,3,3.5,4,4.5,5],"labels":false,"tickSize":-12,"tickColor":"black","title":null}},
"detail":{"field":"b"}}},
{"data":{"values":[{}]},"mark":{"type":"rect","color":"white"},
"encoding":{"x":{"datum":-103,"type":"quantitative","scale":{"domain":[0,250],"nice":false,"zero":false},"axis":null},"x2":{"datum":55},"y":{"datum":4.71,"type":"quantitative","scale":{"domain":[-5,5],"nice":false,"zero":false},"axis":null},"y2":{"datum":3.8}}},
{"data":{"values":[{"t":"BiCoO"}]},"mark":{"type":"text","fontSize":31,"fontWeight":"bold","align":"right","baseline":"alphabetic","color":"black"},
"encoding":{"text":{"field":"t"},"x":{"datum":25,"type":"quantitative","scale":{"domain":[0,250],"nice":false,"zero":false},"axis":null},"y":{"datum":4.16,"type":"quantitative","scale":{"domain":[-5,5],"nice":false,"zero":false},"axis":null}}},
{"data":{"values":[{"t":"3"}]},"mark":{"type":"text","fontSize":22,"fontWeight":"bold","align":"left","baseline":"alphabetic","color":"black"},
"encoding":{"text":{"field":"t"},"x":{"datum":26,"type":"quantitative","scale":{"domain":[0,250],"nice":false,"zero":false},"axis":null},"y":{"datum":3.94,"type":"quantitative","scale":{"domain":[-5,5],"nice":false,"zero":false},"axis":null}}},
{"data":{"values":[{}]},"mark":{"type":"rect","color":"white"},
"encoding":{"x":{"datum":45,"type":"quantitative","scale":{"domain":[0,250],"nice":false,"zero":false},"axis":null},"x2":{"datum":197},"y":{"datum":-4.06,"type":"quantitative","scale":{"domain":[-5,5],"nice":false,"zero":false},"axis":null},"y2":{"datum":-4.86}}},
{"data":{"values":[{"t":"U = 6 eV"}]},"mark":{"type":"text","fontSize":26,"fontWeight":"bold","fontStyle":"italic","align":"center","baseline":"alphabetic","color":"black"},
"encoding":{"text":{"field":"t"},"x":{"datum":120,"type":"quantitative","scale":{"domain":[0,250],"nice":false,"zero":false},"axis":null},"y":{"datum":-4.62,"type":"quantitative","scale":{"domain":[-5,5],"nice":false,"zero":false},"axis":null}}},
{"data":{"values":[{"t":"E"}]},"mark":{"type":"text","fontSize":21,"fontWeight":"bold","align":"left","baseline":"alphabetic","color":"#ff0000"},
"encoding":{"text":{"field":"t"},"x":{"datum":259,"type":"quantitative","scale":{"domain":[0,250],"nice":false,"zero":false},"axis":null},"y":{"datum":-0.135,"type":"quantitative","scale":{"domain":[-5,5],"nice":false,"zero":false},"axis":null}}},
{"data":{"values":[{"t":"F"}]},"mark":{"type":"text","fontSize":14,"fontWeight":"bold","align":"left","baseline":"alphabetic","color":"#ff0000"},
"encoding":{"text":{"field":"t"},"x":{"datum":273,"type":"quantitative","scale":{"domain":[0,250],"nice":false,"zero":false},"axis":null},"y":{"datum":-0.23,"type":"quantitative","scale":{"domain":[-5,5],"nice":false,"zero":false},"axis":null}}}
],
"resolve":{"axis":{"x":"independent","y":"independent"}}},
{"width":250,"height":557,
"layer":[
{"data":{"name":"kb"},"mark":{"type":"rule","color":"#808080","strokeWidth":1.3},
"encoding":{"x":{"field":"k","type":"quantitative","scale":{"domain":[0,250],"nice":false,"zero":false},"axis":{"values":[0,67,126,193,250],"labelExpr":"['F','Γ','Z','L','Γ'][indexof([0,67,126,193,250], datum.value)]","ticks":false,"labelFlush":false,"labelOverlap":false,"labelFontSize":21,"labelBaseline":"alphabetic","labelPadding":18,"title":null}}}},
{"data":{"values":[{}]},"mark":{"type":"rule","color":"#ff0000","strokeDash":[8,4],"strokeWidth":1.5},
"encoding":{"y":{"datum":0,"type":"quantitative","scale":{"domain":[-3,3],"nice":false,"zero":false},"axis":{"orient":"right","values":[-3,-2.5,-2,-1.5,-1,-0.5,0,0.5,1,1.5,2,2.5,3],"labels":false,"tickSize":-12,"tickColor":"#808080","title":null}}}},
{"data":{"name":"bl"},"mark":{"type":"line","interpolate":"monotone","color":"black","strokeWidth":1.6,"clip":true},
"encoding":{"x":{"field":"k","type":"quantitative","scale":{"domain":[0,250],"nice":false,"zero":false},"axis":null},
"y":{"field":"E","type":"quantitative","scale":{"domain":[-3,3],"nice":false,"zero":false},"axis":{"orient":"left","values":[-3,-2.5,-2,-1.5,-1,-0.5,0,0.5,1,1.5,2,2.5,3],"labelExpr":"datum.value % 1 === 0 ? '' + datum.value : ''","labelFontSize":21,"labelOverlap":false,"tickSize":-12,"tickColor":"#808080","labelPadding":16,"title":"Energy(eV)","titleFontSize":32,"titleFontWeight":"bold","titleX":-51,"titleY":276,"titleBaseline":"middle","titleAlign":"center","titleAngle":-90}},
"detail":{"field":"b"}}},
{"data":{"values":[{}]},"mark":{"type":"rect","color":"white"},
"encoding":{"x":{"datum":4,"type":"quantitative","scale":{"domain":[0,250],"nice":false,"zero":false},"axis":null},"x2":{"datum":247},"y":{"datum":-2.26,"type":"quantitative","scale":{"domain":[-3,3],"nice":false,"zero":false},"axis":null},"y2":{"datum":-2.76}}},
{"data":{"values":[{"t":"LDA+U"}]},"mark":{"type":"text","fontSize":32,"fontWeight":"bold","align":"center","baseline":"alphabetic","color":"black"},
"encoding":{"text":{"field":"t"},"x":{"datum":60.5,"type":"quantitative","scale":{"domain":[0,250],"nice":false,"zero":false},"axis":null},"y":{"datum":-2.667,"type":"quantitative","scale":{"domain":[-3,3],"nice":false,"zero":false},"axis":null}}},
{"data":{"values":[{"t":"U = 0 eV"}]},"mark":{"type":"text","fontSize":26,"fontWeight":"bold","fontStyle":"italic","align":"center","baseline":"alphabetic","color":"black"},
"encoding":{"text":{"field":"t"},"x":{"datum":188,"type":"quantitative","scale":{"domain":[0,250],"nice":false,"zero":false},"axis":null},"y":{"datum":-2.667,"type":"quantitative","scale":{"domain":[-3,3],"nice":false,"zero":false},"axis":null}}}
],
"resolve":{"axis":{"x":"independent","y":"independent"}}},
{"width":250,"height":557,
"layer":[
{"data":{"name":"kb"},"mark":{"type":"rule","color":"black","strokeWidth":1.6},
"encoding":{"x":{"field":"k","type":"quantitative","scale":{"domain":[0,250],"nice":false,"zero":false},"axis":{"values":[0,67,126,193,250],"labelExpr":"['F','Γ','Z','L','Γ'][indexof([0,67,126,193,250], datum.value)]","ticks":false,"labelFlush":false,"labelOverlap":false,"labelFontSize":21,"labelBaseline":"alphabetic","labelPadding":18,"title":null}}}},
{"data":{"values":[{}]},"mark":{"type":"rule","color":"#ff0000","strokeDash":[8,4],"strokeWidth":1.5},
"encoding":{"y":{"datum":0,"type":"quantitative","scale":{"domain":[-3,3],"nice":false,"zero":false},"axis":{"orient":"right","values":[-3,-2.5,-2,-1.5,-1,-0.5,0,0.5,1,1.5,2,2.5,3],"labels":false,"tickSize":-12,"tickColor":"black","title":null}}}},
{"data":{"name":"br"},"mark":{"type":"line","interpolate":"monotone","color":"black","strokeWidth":1.6,"clip":true},
"encoding":{"x":{"field":"k","type":"quantitative","scale":{"domain":[0,250],"nice":false,"zero":false},"axis":null},
"y":{"field":"E","type":"quantitative","scale":{"domain":[-3,3],"nice":false,"zero":false},"axis":{"orient":"left","values":[-3,-2.5,-2,-1.5,-1,-0.5,0,0.5,1,1.5,2,2.5,3],"labels":false,"tickSize":-12,"tickColor":"black","title":null}},
"detail":{"field":"b"}}},
{"data":{"values":[{}]},"mark":{"type":"rect","color":"white"},
"encoding":{"x":{"datum":-85,"type":"quantitative","scale":{"domain":[0,250],"nice":false,"zero":false},"axis":null},"x2":{"datum":50},"y":{"datum":2.76,"type":"quantitative","scale":{"domain":[-3,3],"nice":false,"zero":false},"axis":null},"y2":{"datum":2.3}}},
{"data":{"values":[{"t":"LaCoO"}]},"mark":{"type":"text","fontSize":32,"fontWeight":"bold","align":"right","baseline":"alphabetic","color":"black"},
"encoding":{"text":{"field":"t"},"x":{"datum":37,"type":"quantitative","scale":{"domain":[0,250],"nice":false,"zero":false},"axis":null},"y":{"datum":2.41,"type":"quantitative","scale":{"domain":[-3,3],"nice":false,"zero":false},"axis":null}}},
{"data":{"values":[{"t":"3"}]},"mark":{"type":"text","fontSize":23,"fontWeight":"bold","align":"left","baseline":"alphabetic","color":"black"},
"encoding":{"text":{"field":"t"},"x":{"datum":38,"type":"quantitative","scale":{"domain":[0,250],"nice":false,"zero":false},"axis":null},"y":{"datum":2.29,"type":"quantitative","scale":{"domain":[-3,3],"nice":false,"zero":false},"axis":null}}},
{"data":{"values":[{}]},"mark":{"type":"rect","color":"white"},
"encoding":{"x":{"datum":75,"type":"quantitative","scale":{"domain":[0,250],"nice":false,"zero":false},"axis":null},"x2":{"datum":187},"y":{"datum":-2.365,"type":"quantitative","scale":{"domain":[-3,3],"nice":false,"zero":false},"axis":null},"y2":{"datum":-2.765}}},
{"data":{"values":[{"t":"U = 6 eV"}]},"mark":{"type":"text","fontSize":26,"fontWeight":"bold","fontStyle":"italic","align":"center","baseline":"alphabetic","color":"black"},
"encoding":{"text":{"field":"t"},"x":{"datum":130.5,"type":"quantitative","scale":{"domain":[0,250],"nice":false,"zero":false},"axis":null},"y":{"datum":-2.645,"type":"quantitative","scale":{"domain":[-3,3],"nice":false,"zero":false},"axis":null}}},
{"data":{"values":[{"t":"E"}]},"mark":{"type":"text","fontSize":20,"fontWeight":"bold","align":"left","baseline":"alphabetic","color":"#ff0000"},
"encoding":{"text":{"field":"t"},"x":{"datum":252,"type":"quantitative","scale":{"domain":[0,250],"nice":false,"zero":false},"axis":null},"y":{"datum":-0.027,"type":"quantitative","scale":{"domain":[-3,3],"nice":false,"zero":false},"axis":null}}},
{"data":{"values":[{"t":"F"}]},"mark":{"type":"text","fontSize":13,"fontWeight":"bold","align":"left","baseline":"alphabetic","color":"#ff0000"},
"encoding":{"text":{"field":"t"},"x":{"datum":266,"type":"quantitative","scale":{"domain":[0,250],"nice":false,"zero":false},"axis":null},"y":{"datum":-0.135,"type":"quantitative","scale":{"domain":[-3,3],"nice":false,"zero":false},"axis":null}}}
],
"resolve":{"axis":{"x":"independent","y":"independent"}}}
],
"columns":2,
"spacing":{"row":69,"column":25},
"bounds":"flush"
}
